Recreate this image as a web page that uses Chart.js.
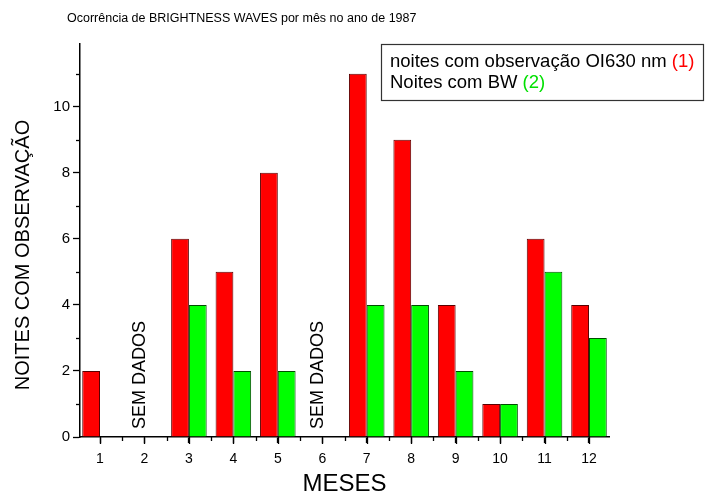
<!DOCTYPE html>
<html>
<head>
<meta charset="utf-8">
<script src="https://cdn.jsdelivr.net/npm/chart.js@4"></script>
<style>
  html, body { margin: 0; padding: 0; background: #fff; }
  #wrap { width: 705px; height: 499px; }
</style>
</head>
<body>
<div id="wrap"><canvas id="myChart"></canvas></div>
<script>
const meses = [1, 2, 3, 4, 5, 6, 7, 8, 9, 10, 11, 12];
// null = sem dados
const noitesOI630 = [2, null, 6, 5, 8, null, 11, 9, 4, 1, 6, 4];
const noitesBW = [null, null, 4, 2, 2, null, 4, 4, 2, 1, 5, 3];
const semDados = [2, 6];
const yTicks = [0, 2, 4, 6, 8, 10];

const FONT = "'Liberation Sans', Arial, sans-serif";

const pontos = (vals) => meses
  .map((m, i) => ({ x: m, y: vals[i] }))
  .filter(p => p.y !== null);

// ticks, textos e legenda desenhados por cima
const extras = {
  id: 'extras',
  afterDraw(chart) {
    const { ctx, scales: { x, y } } = chart;
    ctx.save();
    ctx.strokeStyle = '#000';
    ctx.lineWidth = 1.3;
    // ticks eixo x (maiores nos meses, menores entre eles)
    meses.forEach(m => {
      const px = Math.round(x.getPixelForValue(m)) + 0.5;
      ctx.beginPath();
      ctx.moveTo(px, y.bottom);
      ctx.lineTo(px, y.bottom + 7);
      ctx.stroke();
    });
    for (let v = 1.5; v < 12.45; v += 1) {
      const px = Math.round(x.getPixelForValue(v)) + 0.5;
      ctx.beginPath();
      ctx.moveTo(px, y.bottom);
      ctx.lineTo(px, y.bottom + 4);
      ctx.stroke();
    }
    // minor ticks eixo y
    for (let v = 1; v < 12; v += 2) {
      const py = Math.round(y.getPixelForValue(v)) + 0.5;
      ctx.beginPath();
      ctx.moveTo(x.left, py);
      ctx.lineTo(x.left - 4, py);
      ctx.stroke();
    }

    ctx.fillStyle = '#000';
    // titulo
    ctx.font = '12.5px ' + FONT;
    ctx.textBaseline = 'alphabetic';
    ctx.textAlign = 'left';
    ctx.fillText('Ocorrência de BRIGHTNESS WAVES por mês no ano de 1987', 67, 22);

    // titulo eixo y
    ctx.save();
    ctx.translate(23, 255);
    ctx.rotate(-Math.PI / 2);
    ctx.font = '20px ' + FONT;
    ctx.textAlign = 'center';
    ctx.textBaseline = 'middle';
    ctx.fillText('NOITES COM OBSERVAÇÃO', 0, 0);
    ctx.restore();

    // SEM DADOS
    semDados.forEach(m => {
      ctx.save();
      ctx.translate(x.getPixelForValue(m) - 4, y.bottom - 8);
      ctx.rotate(-Math.PI / 2);
      ctx.font = '18px ' + FONT;
      ctx.textAlign = 'left';
      ctx.textBaseline = 'middle';
      ctx.fillText('SEM DADOS', 0, 0);
      ctx.restore();
    });

    // legenda
    ctx.fillStyle = '#fff';
    ctx.fillRect(381, 44, 322, 56);
    ctx.strokeStyle = '#333';
    ctx.lineWidth = 1.2;
    ctx.strokeRect(381.5, 44.5, 322, 56);
    ctx.font = '18.5px ' + FONT;
    ctx.textAlign = 'left';
    ctx.textBaseline = 'alphabetic';
    const linhas = [
      ['noites com observação OI630 nm ', '(1)', '#ff0000', 67],
      ['Noites com BW ', '(2)', '#00e000', 88]
    ];
    linhas.forEach(([txt, num, cor, by]) => {
      ctx.fillStyle = '#000';
      ctx.fillText(txt, 390, by);
      ctx.fillStyle = cor;
      ctx.fillText(num, 390 + ctx.measureText(txt).width, by);
    });
    ctx.restore();
  }
};

const ctx = document.getElementById('myChart').getContext('2d');
const myChart = new Chart(ctx, {
  type: 'bar',
  data: {
    datasets: [{
      label: 'noites com observação OI630 nm (1)',
      data: pontos(noitesOI630),
      backgroundColor: '#ff0000',
      borderColor: '#5a0000',
      borderWidth: 1,
      borderSkipped: 'bottom'
    }, {
      label: 'Noites com BW (2)',
      data: pontos(noitesBW),
      backgroundColor: '#00ff00',
      borderColor: '#004d00',
      borderWidth: 1,
      borderSkipped: 'bottom'
    }]
  },
  options: {
    responsive: true,
    maintainAspectRatio: false,
    animation: false,
    categoryPercentage: 0.8,
    barPercentage: 1.0,
    layout: { padding: { top: 44, right: 96, left: 0, bottom: 0 } },
    plugins: {
      legend: { display: false },
      tooltip: { enabled: false }
    },
    scales: {
      x: {
        type: 'linear',
        offset: false,
        min: 0.55,
        max: 12.45,
        afterFit: s => { s.height = 62; },
        ticks: {
          stepSize: 1,
          includeBounds: false,
          color: '#000',
          font: { family: FONT, size: 14 },
          padding: 8
        },
        grid: {
          offset: false,
          drawOnChartArea: false,
          drawTicks: true,
          tickLength: 6,
          tickWidth: 1.3,
          tickColor: '#000'
        },
        border: { color: '#000', width: 1.5 },
        title: {
          display: true,
          text: 'MESES',
          color: '#000',
          font: { family: FONT, size: 24 },
          padding: { top: 0, bottom: 0 }
        }
      },
      y: {
        min: 0,
        max: 11.9,
        afterFit: s => { s.width = 80; },
        ticks: {
          stepSize: 2,
          includeBounds: false,
          color: '#000',
          font: { family: FONT, size: 15 },
          padding: 3,
          callback: v => yTicks.includes(v) ? v : ''
        },
        grid: {
          drawOnChartArea: false,
          drawTicks: true,
          tickLength: 7,
          tickWidth: 1.3,
          tickColor: '#000'
        },
        border: { color: '#000', width: 1.5 }
      }
    }
  },
  plugins: [extras]
});
</script>
</body>
</html>
